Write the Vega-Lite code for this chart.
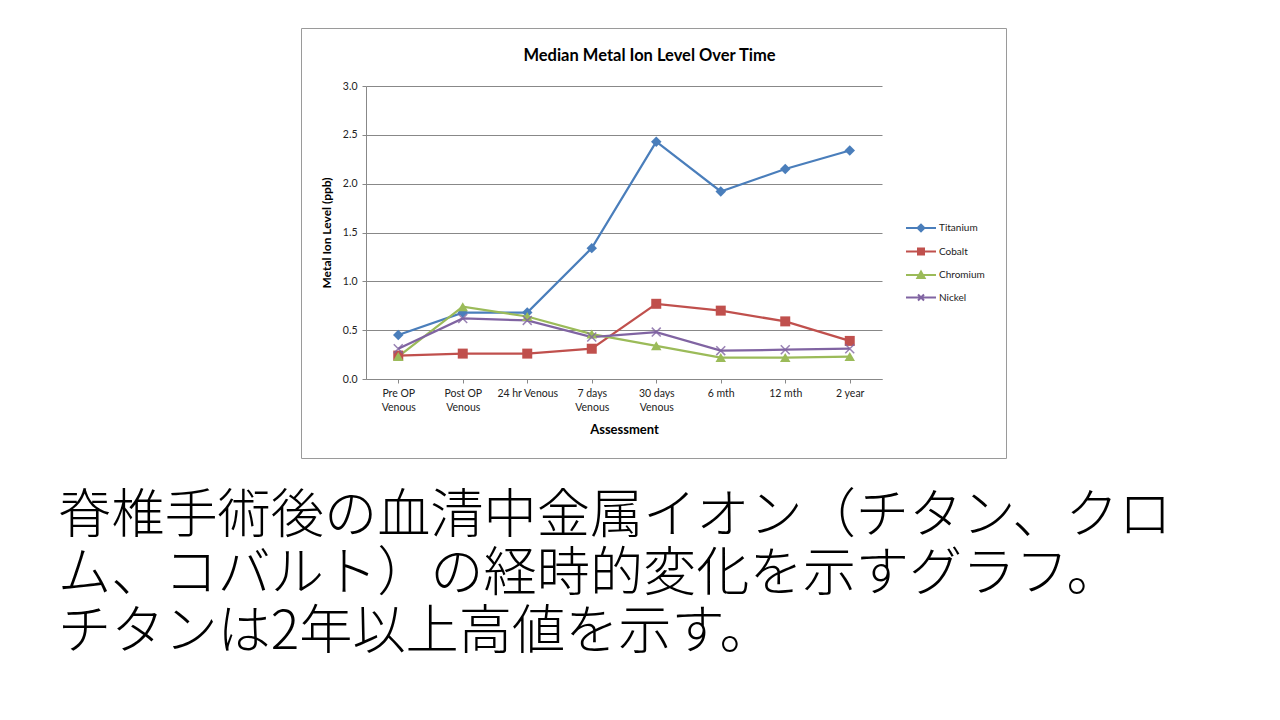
{
  "$schema": "https://vega.github.io/schema/vega-lite/v6.json",
  "background": "white",
  "padding": {"left": 58, "top": 27, "right": 5, "bottom": 5},
  "title": {
    "text": ["脊椎手術後の血清中金属イオン（チタン、クロ", "ム、コバルト）の経時的変化を示すグラフ。", "チタンは2年以上高値を示す。"],
    "orient": "bottom", "anchor": "start", "frame": "group", "dx": -243, "offset": 32,
    "font": "Noto Sans CJK JP", "fontSize": 53.2, "fontWeight": 200, "lineHeight": 58, "color": "#000000"
  },
  "vconcat": [
    {
      "width": 705,
      "height": 430,
      "title": {"text": "Median Metal Ion Level Over Time", "anchor": "middle", "frame": "group", "offset": -36, "dx": -4, "font": "Lato", "fontSize": 16.5, "fontWeight": "bold", "color": "#000000"},
      "data": {"values": [
        {"time": "Pre OP Venous", "metal": "Titanium", "value": 0.45},
        {"time": "Post OP Venous", "metal": "Titanium", "value": 0.68},
        {"time": "24 hr Venous", "metal": "Titanium", "value": 0.68},
        {"time": "7 days Venous", "metal": "Titanium", "value": 1.34},
        {"time": "30 days Venous", "metal": "Titanium", "value": 2.43},
        {"time": "6 mth", "metal": "Titanium", "value": 1.92},
        {"time": "12 mth", "metal": "Titanium", "value": 2.15},
        {"time": "2 year", "metal": "Titanium", "value": 2.34},
        {"time": "Pre OP Venous", "metal": "Cobalt", "value": 0.24},
        {"time": "Post OP Venous", "metal": "Cobalt", "value": 0.26},
        {"time": "24 hr Venous", "metal": "Cobalt", "value": 0.26},
        {"time": "7 days Venous", "metal": "Cobalt", "value": 0.31},
        {"time": "30 days Venous", "metal": "Cobalt", "value": 0.77},
        {"time": "6 mth", "metal": "Cobalt", "value": 0.70},
        {"time": "12 mth", "metal": "Cobalt", "value": 0.59},
        {"time": "2 year", "metal": "Cobalt", "value": 0.39},
        {"time": "Pre OP Venous", "metal": "Chromium", "value": 0.23},
        {"time": "Post OP Venous", "metal": "Chromium", "value": 0.74},
        {"time": "24 hr Venous", "metal": "Chromium", "value": 0.64},
        {"time": "7 days Venous", "metal": "Chromium", "value": 0.46},
        {"time": "30 days Venous", "metal": "Chromium", "value": 0.34},
        {"time": "6 mth", "metal": "Chromium", "value": 0.22},
        {"time": "12 mth", "metal": "Chromium", "value": 0.22},
        {"time": "2 year", "metal": "Chromium", "value": 0.23},
        {"time": "Pre OP Venous", "metal": "Nickel", "value": 0.31},
        {"time": "Post OP Venous", "metal": "Nickel", "value": 0.62},
        {"time": "24 hr Venous", "metal": "Nickel", "value": 0.60},
        {"time": "7 days Venous", "metal": "Nickel", "value": 0.43},
        {"time": "30 days Venous", "metal": "Nickel", "value": 0.48},
        {"time": "6 mth", "metal": "Nickel", "value": 0.29},
        {"time": "12 mth", "metal": "Nickel", "value": 0.30},
        {"time": "2 year", "metal": "Nickel", "value": 0.31}
      ]},
      "encoding": {
        "x": {
          "field": "time", "type": "nominal",
          "sort": ["Pre OP Venous", "Post OP Venous", "24 hr Venous", "7 days Venous", "30 days Venous", "6 mth", "12 mth", "2 year"],
          "scale": {"type": "point", "range": [65, 581], "padding": 0.5},
          "axis": {
            "title": "Assessment", "labelAngle": 0, "offset": -79, "grid": false,
            "labelExpr": "indexof(datum.label, ' Venous') > 0 && datum.label != '24 hr Venous' ? [replace(datum.label, ' Venous', ''), 'Venous'] : datum.label",
            "domainColor": "#888888", "tickColor": "#888888", "tickSize": 4,
            "labelFont": "Lato", "labelFontSize": 10.5, "labelColor": "#222222", "labelPadding": 5, "labelLineHeight": 14,
            "titleFont": "Lato", "titleFontSize": 13, "titleFontWeight": "bold", "titleColor": "#000000", "titlePadding": 11
          }
        },
        "y": {
          "field": "value", "type": "quantitative",
          "scale": {"domain": [0, 3], "range": [351, 58], "nice": false},
          "axis": {
            "title": "Metal Ion Level (ppb)", "offset": -65,
            "values": [0, 0.5, 1, 1.5, 2, 2.5, 3], "format": ".1f",
            "grid": true, "gridColor": "#888888", "gridWidth": 1,
            "domainColor": "#888888", "tickColor": "#888888", "tickSize": 4,
            "labelFont": "Lato", "labelFontSize": 10.5, "labelColor": "#222222", "labelPadding": 5,
            "titleFont": "Lato", "titleFontSize": 12, "titleFontWeight": "bold", "titleColor": "#000000", "titlePadding": 9
          }
        }
      },
      "layer": [
        {
          "mark": {"type": "line", "strokeWidth": 2.25},
          "encoding": {
            "color": {
              "field": "metal", "type": "nominal",
              "scale": {"domain": ["Titanium", "Cobalt", "Chromium", "Nickel"], "range": ["#4A7EBB", "#C0504D", "#9BBB59", "#8064A2"]},
              "legend": {
                "orient": "none", "legendX": 615, "legendY": 195, "title": null,
                "symbolSize": 64, "labelOffset": 13, "rowPadding": 8.5,
                "labelFont": "Lato", "labelFontSize": 10, "labelColor": "#222222",
                "encode": {"symbols": {"update": {
                  "shape": {"signal": "datum.value == 'Titanium' ? 'M-3.75,0L3.75,0M-0.85,0L0,-0.85L0.85,0L0,0.85Z' : datum.value == 'Cobalt' ? 'M-3.75,0L3.75,0M-0.75,-0.75L0.75,-0.75L0.75,0.75L-0.75,0.75Z' : datum.value == 'Chromium' ? 'M-3.75,0L3.75,0M-0.9,0.75L0,-0.85L0.9,0.75Z' : 'M-3.75,0L3.75,0M-0.75,-0.75L0.75,0.75M0.75,-0.75L-0.75,0.75'"},
                  "fill": {"signal": "datum.value == 'Titanium' ? '#4A7EBB' : datum.value == 'Cobalt' ? '#C0504D' : datum.value == 'Chromium' ? '#9BBB59' : '#8064A2'"},
                  "stroke": {"signal": "datum.value == 'Titanium' ? '#4A7EBB' : datum.value == 'Cobalt' ? '#C0504D' : datum.value == 'Chromium' ? '#9BBB59' : '#8064A2'"},
                  "strokeWidth": {"value": 2},
                  "opacity": {"value": 1}
                }}}
              }
            }
          }
        },
        {
          "transform": [{"filter": "datum.metal == 'Titanium'"}],
          "mark": {"type": "point", "shape": "diamond", "filled": true, "color": "#4A7EBB", "size": 110, "opacity": 1}
        },
        {
          "transform": [{"filter": "datum.metal == 'Cobalt'"}],
          "mark": {"type": "point", "shape": "square", "filled": true, "color": "#C0504D", "size": 100, "opacity": 1}
        },
        {
          "transform": [{"filter": "datum.metal == 'Chromium'"}],
          "mark": {"type": "point", "shape": "triangle-up", "filled": true, "color": "#9BBB59", "size": 110, "opacity": 1}
        },
        {
          "transform": [{"filter": "datum.metal == 'Nickel'"}],
          "mark": {"type": "point", "shape": "M-1,-1L1,1M1,-1L-1,1", "filled": false, "color": "#8064A2", "size": 80, "strokeWidth": 1.5, "opacity": 0.8}
        }
      ]
    }
  ],
  "config": {
    "view": {"stroke": "#9a9a9a", "strokeWidth": 1}
  }
}
